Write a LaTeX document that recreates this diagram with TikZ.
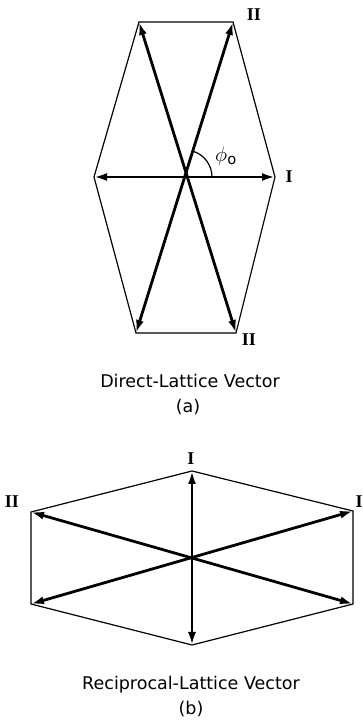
\documentclass[tikz,border=0pt]{standalone}
\usepackage{fontspec}
\setmainfont{DejaVu Sans}
\newfontfamily\romfont{Liberation Serif}
\usepackage{tikz}
\usetikzlibrary{arrows.meta}
\tikzset{
  cell/.style={line width=1.2pt,line join=miter},
  vec/.style={line width=2.8pt,{Latex[length=13pt,width=8pt]}-{Latex[length=13pt,width=8pt]}},
  numeral/.style={font=\romfont\bfseries\fontsize{18}{18}\selectfont},
  caption/.style={font=\fontsize{17.5}{19}\selectfont}
}

\begin{document}
\begin{tikzpicture}[x=1pt,y=1pt]
\useasboundingbox (0,0) rectangle (362,721);
% (a) direct lattice
\coordinate (ao) at (185,544);
\coordinate (ar) at (275,544);
\coordinate (al) at (94,544);
\coordinate (atr) at (233,699);
\coordinate (atl) at (139,699);
\coordinate (abr) at (236,388);
\coordinate (abl) at (136,388);
\draw[cell] (atl) -- (atr) -- (ar) -- (abr) -- (abl) -- (al) -- cycle;
\draw[vec] (al) -- (ar);
\draw[vec] (abl) -- (atr);
\draw[vec] (abr) -- (atl);
\draw[line width=1.2pt] ([xshift=27pt]ao) arc (0:72:27pt);
\node[numeral] (a1) at (289,544) {I};
\node[numeral] (a2top) at (254,706) {II};
\node[numeral] (a2bot) at (249,381) {II};
\node (phi) at (226,565) {\fontsize{21}{21}\selectfont$\phi_{\mathrm{o}}$};
\node[caption] (acap) at (190,340) {Direct-Lattice Vector};
\node[caption] (alab) at (188,314) {(a)};
% (b) reciprocal lattice
\coordinate (bo) at (192,163);
\coordinate (bt) at (192,250);
\coordinate (bb) at (192,76);
\coordinate (bul) at (31,209);
\coordinate (bur) at (353,210);
\coordinate (bll) at (31,117);
\coordinate (blr) at (353,117);
\draw[cell] (bt) -- (bur) -- (blr) -- (bb) -- (bll) -- (bul) -- cycle;
\draw[vec] (bb) -- (bt);
\draw[vec] (bll) -- (bur);
\draw[vec] (blr) -- (bul);
\node[numeral] (b1top) at (191,262) {I};
\node[numeral] (b2) at (12,219) {II};
\node[numeral] (b1right) at (359,219) {I};
\node[caption] (bcap) at (191,36) {Reciprocal-Lattice Vector};
\node[caption] (blab) at (191,12) {(b)};
\end{tikzpicture}
\end{document}
